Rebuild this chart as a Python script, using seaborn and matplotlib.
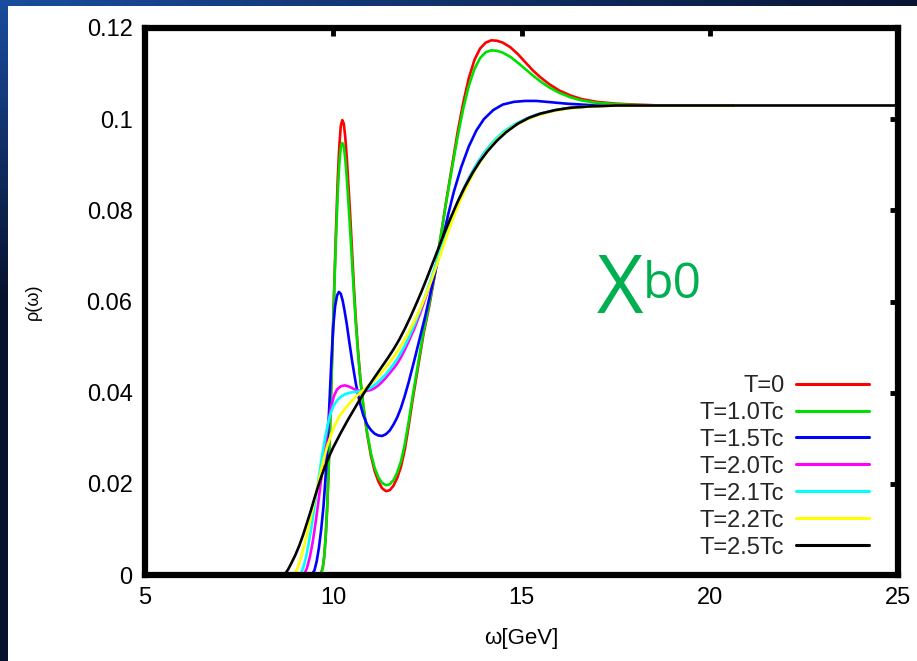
import numpy as np
import pandas as pd
import matplotlib
matplotlib.use("Agg")
import matplotlib.pyplot as plt
import seaborn as sns
from matplotlib.patches import Rectangle
from matplotlib.lines import Line2D

# ---------------- data ----------------
labels = ["T=0", "T=1.0Tc", "T=1.5Tc", "T=2.0Tc", "T=2.1Tc", "T=2.2Tc", "T=2.5Tc"]
colors = ["#ff0000", "#00e000", "#0000ff", "#ff00ff", "#00ffff", "#ffff00", "#000000"]

x_t0 = [5.0, 9.60, 9.68, 9.72, 9.76, 9.80, 9.84, 9.88, 9.92, 9.96, 10.00, 10.04, 10.08, 10.12, 10.16,
        10.20, 10.24, 10.28, 10.32, 10.36, 10.40, 10.45, 10.50, 10.55, 10.60, 10.66, 10.72, 10.80, 10.90,
        11.00, 11.10, 11.20, 11.30, 11.40, 11.50, 11.60, 11.70, 11.80, 11.90, 12.00, 12.10, 12.25, 12.40,
        12.55, 12.70, 12.85, 13.00, 13.15, 13.30, 13.45, 13.60, 13.75, 13.90, 14.05, 14.20, 14.35, 14.50,
        14.70, 14.90, 15.10, 15.30, 15.50, 15.75, 16.00, 16.30, 16.60, 17.00, 17.50, 18.00, 18.70, 20.60]
y_t0 = [0.0, 0.0, 0.0005, 0.0015, 0.004, 0.0085, 0.0150, 0.0240, 0.0340, 0.0450, 0.0560, 0.0670, 0.0775, 0.0870, 0.0940,
        0.0985, 0.0998, 0.0990, 0.0960, 0.0915, 0.0860, 0.0790, 0.0710, 0.0630, 0.0560, 0.0490, 0.0430, 0.0370, 0.0310,
        0.0262, 0.0228, 0.0205, 0.0190, 0.0184, 0.0186, 0.0196, 0.0213, 0.0238, 0.0275, 0.0325, 0.0380, 0.0455, 0.0530,
        0.0590, 0.0660, 0.0740, 0.0820, 0.0895, 0.0970, 0.1035, 0.1090, 0.1130, 0.1155, 0.1168, 0.1173, 0.1172, 0.1168,
        0.1158, 0.1143, 0.1125, 0.1107, 0.1092, 0.1076, 0.1063, 0.1052, 0.1044, 0.1038, 0.1034, 0.1032, 0.1030, 0.1030]

x_t10 = x_t0
y_t10 = [0.0, 0.0, 0.0005, 0.0015, 0.004, 0.0085, 0.0150, 0.0240, 0.0340, 0.0450, 0.0555, 0.0660, 0.0755, 0.0840, 0.0900,
         0.0938, 0.0948, 0.0940, 0.0912, 0.0870, 0.0820, 0.0755, 0.0685, 0.0615, 0.0550, 0.0485, 0.0428, 0.0370, 0.0312,
         0.0267, 0.0235, 0.0214, 0.0202, 0.0197, 0.0199, 0.0208, 0.0225, 0.0250, 0.0287, 0.0335, 0.0388, 0.0462, 0.0535,
         0.0595, 0.0663, 0.0740, 0.0818, 0.0890, 0.0960, 0.1022, 0.1073, 0.1110, 0.1134, 0.1147, 0.1151, 0.1150, 0.1146,
         0.1137, 0.1124, 0.1110, 0.1096, 0.1083, 0.1069, 0.1058, 0.1048, 0.1041, 0.1036, 0.1033, 0.1031, 0.1030, 0.1030]

x_t15 = [5.0, 9.42, 9.50, 9.56, 9.62, 9.68, 9.74, 9.80, 9.85, 9.90, 9.95, 10.00, 10.05, 10.10, 10.15, 10.20,
         10.25, 10.30, 10.36, 10.42, 10.50, 10.60, 10.70, 10.80, 10.90, 11.00, 11.10, 11.20, 11.30, 11.40,
         11.50, 11.60, 11.70, 11.80, 11.90, 12.00, 12.15, 12.30, 12.45, 12.60, 12.75, 12.90, 13.05, 13.20,
         13.40, 13.60, 13.80, 14.00, 14.25, 14.50, 14.80, 15.10, 15.40, 15.80, 16.20, 16.80, 17.50, 20.60]
y_t15 = [0.0, 0.0, 0.001, 0.003, 0.006, 0.010, 0.015, 0.022, 0.029, 0.038, 0.047, 0.0545, 0.0590, 0.0613, 0.0621, 0.0617,
         0.0602, 0.0580, 0.0550, 0.0515, 0.0470, 0.0420, 0.0380, 0.0350, 0.0330, 0.0318, 0.0310, 0.0306, 0.0305, 0.0309,
         0.0317, 0.0330, 0.0346, 0.0367, 0.0393, 0.0422, 0.0470, 0.0520, 0.0570, 0.0625, 0.0680, 0.0735, 0.0790, 0.0840,
         0.0895, 0.0940, 0.0975, 0.1000, 0.1020, 0.1032, 0.1038, 0.1040, 0.1040, 0.1037, 0.1034, 0.1031, 0.1030, 0.1030]

x_t20 = [5.0, 9.22, 9.30, 9.38, 9.46, 9.54, 9.62, 9.70, 9.78, 9.86, 9.94, 10.02, 10.10, 10.20, 10.30, 10.40,
         10.50, 10.60, 10.70, 10.80, 10.90, 11.00, 11.10, 11.20, 11.30, 11.40, 11.50, 11.60, 11.70, 11.80,
         11.90, 12.00, 12.15, 12.30, 12.45, 12.60, 12.75, 12.90, 13.05, 13.20, 13.40, 13.60, 13.80, 14.00,
         14.25, 14.50, 14.80, 15.10, 15.40, 15.80, 16.20, 16.80, 17.50, 20.60]
y_t20 = [0.0, 0.0, 0.0015, 0.004, 0.0075, 0.012, 0.017, 0.0225, 0.0280, 0.0330, 0.0368, 0.0393, 0.0407, 0.0414, 0.0416, 0.0414,
         0.0410, 0.0406, 0.0404, 0.0403, 0.0404, 0.0406, 0.0410, 0.0416, 0.0424, 0.0433, 0.0443, 0.0453, 0.0464, 0.0478,
         0.0494, 0.0512, 0.0540, 0.0572, 0.0608, 0.0646, 0.0686, 0.0725, 0.0762, 0.0796, 0.0836, 0.0870, 0.0900, 0.0925,
         0.0950, 0.0970, 0.0987, 0.1000, 0.1010, 0.1018, 0.1024, 0.1028, 0.1030, 0.1030]

x_t21 = [5.0, 9.12, 9.20, 9.28, 9.36, 9.44, 9.52, 9.60, 9.68, 9.76, 9.84, 9.92, 10.00, 10.10, 10.20, 10.30,
         10.40, 10.50, 10.60, 10.70, 10.80, 10.90, 11.00, 11.10, 11.20, 11.30, 11.40, 11.50, 11.60, 11.70,
         11.80, 11.90, 12.00, 12.15, 12.30, 12.45, 12.60, 12.75, 12.90, 13.05, 13.20, 13.40, 13.60, 13.80,
         14.00, 14.25, 14.50, 14.80, 15.10, 15.40, 15.80, 16.20, 16.80, 17.50, 20.60]
y_t21 = [0.0, 0.0, 0.0015, 0.004, 0.0075, 0.0115, 0.016, 0.0205, 0.025, 0.029, 0.0325, 0.0352, 0.0370, 0.0383, 0.0391, 0.0396,
         0.0399, 0.0401, 0.0402, 0.0403, 0.0404, 0.0407, 0.0411, 0.0417, 0.0424, 0.0432, 0.0441, 0.0451, 0.0462, 0.0474,
         0.0488, 0.0503, 0.0520, 0.0548, 0.0579, 0.0613, 0.0650, 0.0688, 0.0726, 0.0762, 0.0796, 0.0836, 0.0870, 0.0900,
         0.0925, 0.0951, 0.0971, 0.0988, 0.1000, 0.1010, 0.1018, 0.1024, 0.1028, 0.1030, 0.1030]

x_t22 = [5.0, 8.95, 9.05, 9.15, 9.25, 9.35, 9.45, 9.55, 9.65, 9.75, 9.85, 9.95, 10.05, 10.15, 10.25, 10.35,
         10.45, 10.55, 10.65, 10.75, 10.85, 10.95, 11.10, 11.25, 11.40, 11.55, 11.70, 11.85, 12.00, 12.15,
         12.30, 12.45, 12.60, 12.75, 12.90, 13.05, 13.20, 13.40, 13.60, 13.80, 14.00, 14.25, 14.50, 14.80,
         15.10, 15.40, 15.80, 16.20, 16.80, 17.50, 20.60]
y_t22 = [0.0, 0.0, 0.0015, 0.004, 0.0072, 0.0108, 0.0145, 0.0183, 0.0220, 0.0255, 0.0285, 0.0310, 0.0330, 0.0346, 0.0358, 0.0369,
         0.0378, 0.0387, 0.0395, 0.0402, 0.0409, 0.0416, 0.0428, 0.0441, 0.0456, 0.0472, 0.0490, 0.0510, 0.0532, 0.0556,
         0.0583, 0.0612, 0.0645, 0.0680, 0.0716, 0.0752, 0.0786, 0.0827, 0.0862, 0.0893, 0.0919, 0.0946, 0.0967, 0.0985,
         0.0998, 0.1008, 0.1017, 0.1023, 0.1028, 0.1030, 0.1030]

x_t25 = [5.0, 8.70, 8.80, 8.90, 9.00, 9.10, 9.20, 9.30, 9.40, 9.50, 9.60, 9.70, 9.80, 9.90, 10.00, 10.10,
         10.20, 10.30, 10.40, 10.50, 10.60, 10.70, 10.80, 10.90, 11.00, 11.15, 11.30, 11.45, 11.60, 11.75,
         11.90, 12.05, 12.20, 12.35, 12.50, 12.65, 12.80, 12.95, 13.10, 13.30, 13.50, 13.70, 13.90, 14.10,
         14.35, 14.60, 14.90, 15.20, 15.50, 15.90, 16.30, 16.80, 17.50, 25.00]
y_t25 = [0.0, 0.0, 0.0012, 0.0028, 0.0045, 0.0065, 0.0088, 0.0114, 0.0140, 0.0168, 0.0195, 0.0220, 0.0242, 0.0262, 0.0280, 0.0296,
         0.0312, 0.0327, 0.0342, 0.0356, 0.0370, 0.0384, 0.0397, 0.0410, 0.0422, 0.0440, 0.0458, 0.0476, 0.0495, 0.0516,
         0.0540, 0.0566, 0.0594, 0.0623, 0.0654, 0.0686, 0.0718, 0.0750, 0.0780, 0.0818, 0.0852, 0.0882, 0.0908, 0.0930,
         0.0953, 0.0972, 0.0990, 0.1003, 0.1012, 0.1020, 0.1025, 0.1028, 0.1030, 0.1030]

x_series = [x_t0, x_t10, x_t15, x_t20, x_t21, x_t22, x_t25]
y_series = [y_t0, y_t10, y_t15, y_t20, y_t21, y_t22, y_t25]

x_ticks = [5, 10, 15, 20, 25]
y_ticks = [0, 0.02, 0.04, 0.06, 0.08, 0.1, 0.12]
y_ticklabels = ["0", "0.02", "0.04", "0.06", "0.08", "0.1", "0.12"]

# ---------------- build long table ----------------
frames = []
for lab, xs, ys in zip(labels, x_series, y_series):
    frames.append(pd.DataFrame({"omega": xs, "rho": ys, "T": lab}))
df = pd.concat(frames, ignore_index=True)

sns.set_theme(style="white")
plt.rcParams["font.family"] = ["Liberation Sans", "DejaVu Sans"]

W, H = 917, 661
fig = plt.figure(figsize=(W / 100, H / 100), dpi=100)

# slide-like background
bg = fig.add_axes([0, 0, 1, 1], zorder=-10)
gy, gx = np.mgrid[0:1:200j, 0:1:200j]
grad = np.clip(1.0 - 1.6 * np.hypot(gx * 0.6, gy * 1.4), 0, 1)
c0 = np.array([0.03, 0.07, 0.18])
c1 = np.array([0.10, 0.30, 0.62])
img = c0[None, None, :] * (1 - grad[..., None]) + c1[None, None, :] * grad[..., None]
bg.imshow(img, extent=[0, 1, 0, 1], aspect="auto", origin="upper")
bg.add_patch(Rectangle((8 / W, 0), 1, 1 - 6 / H, facecolor="white", edgecolor="none"))
bg.set_xlim(0, 1); bg.set_ylim(0, 1)
bg.axis("off")

ax = fig.add_axes([145 / W, 1 - 575 / H, (898 - 145) / W, (575 - 28) / H])
ax.set_facecolor("none")

palette = dict(zip(labels, colors))
sns.lineplot(data=df, x="omega", y="rho", hue="T", hue_order=labels, palette=palette,
             units="T", estimator=None, sort=False, linewidth=1.9, ax=ax, legend=False)

ax.set_xlim(5, 25)
ax.set_ylim(0, 0.12)
ax.set_xticks(x_ticks)
ax.set_xticklabels([str(t) for t in x_ticks])
ax.set_yticks(y_ticks)
ax.set_yticklabels(y_ticklabels)
for s in ax.spines.values():
    s.set_linewidth(4.5)
    s.set_color("black")
    s.set_visible(True)
    s.set_zorder(5)
ax.tick_params(direction="in", length=6, width=3.5, top=True, right=True,
               labelsize=17, colors="black", pad=9)
ax.set_xlabel("ω[GeV]", fontsize=16, labelpad=13, color="black")
ax.set_ylabel("ρ(ω)", fontsize=13, labelpad=32, color="black")

handles = [Line2D([], [], color=c, lw=2.2) for c in colors]
ax.legend(handles, labels, loc="lower right", bbox_to_anchor=(0.962, 0.03),
          frameon=False, markerfirst=False, fontsize=17, handlelength=3.1,
          handletextpad=0.5, labelspacing=0.21, borderpad=0, borderaxespad=0)

fig.text(597 / W, 1 - 313 / H, "X", color="#00b050", fontsize=58, family="Open Sans",
         ha="left", va="baseline")
fig.text(643 / W, 1 - 298 / H, "b0", color="#00b050", fontsize=36, family="Open Sans",
         ha="left", va="baseline")

fig.savefig("out.png", dpi=100)
